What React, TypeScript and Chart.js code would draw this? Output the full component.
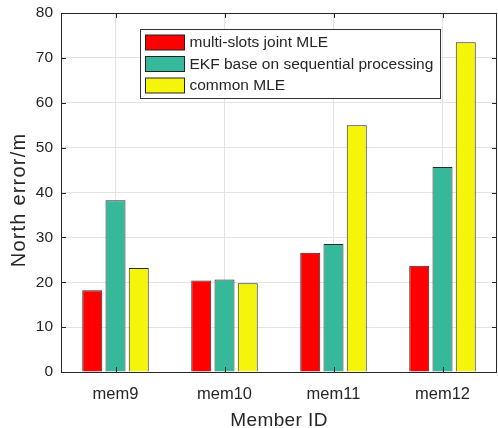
import React, { useEffect, useRef } from "react";
import { Chart, registerables } from "chart.js";

Chart.register(...registerables);

const categories = ["mem9", "mem10", "mem11", "mem12"];
const seriesNames = ["multi-slots joint MLE", "EKF base on sequential processing", "common MLE"];
const jointMLE = [18.2, 20.4, 26.6, 23.7];
const ekfSeq = [38.3, 20.6, 28.5, 45.7];
const commonMLE = [23.2, 19.8, 55.0, 73.5];
const seriesColors = ["#ff0000", "#36b89a", "#f5f50c"];
const yTicks = [0, 10, 20, 30, 40, 50, 60, 70, 80];
const xTitle = "Member ID";
const yTitle = "North error/m";

const FONT = "'Liberation Sans', Arial, sans-serif";
const TXT = "#262626";

const framePlugin = {
  id: "frame",
  afterDraw(chart: any) {
    const { ctx, chartArea } = chart;
    const { left, right, top, bottom } = chartArea;
    const ys = chart.scales.y;
    const xs = chart.scales.x;
    ctx.save();
    ctx.strokeStyle = TXT;
    ctx.lineWidth = 1;
    ctx.beginPath();
    yTicks.forEach((v) => {
      const y = Math.round(ys.getPixelForValue(v)) + 0.5;
      ctx.moveTo(left, y);
      ctx.lineTo(left + 5, y);
      ctx.moveTo(right, y);
      ctx.lineTo(right - 5, y);
    });
    categories.forEach((_, i) => {
      const x = Math.round(xs.getPixelForValue(i)) + 0.5;
      ctx.moveTo(x, bottom);
      ctx.lineTo(x, bottom - 5);
      ctx.moveTo(x, top);
      ctx.lineTo(x, top + 5);
    });
    ctx.stroke();
    ctx.beginPath();
    ctx.rect(Math.round(left) + 0.5, Math.round(top) + 0.5, Math.round(right - left) - 1, Math.round(bottom - top));
    ctx.stroke();

    // axis titles
    ctx.fillStyle = TXT;
    ctx.textAlign = "center";
    ctx.textBaseline = "alphabetic";
    ctx.font = `19px ${FONT}`;
    (ctx as any).letterSpacing = "0.4px";
    ctx.fillText(xTitle, (left + right) / 2, 426);
    ctx.save();
    ctx.translate(25, 200);
    ctx.rotate(-Math.PI / 2);
    ctx.font = `20px ${FONT}`;
    (ctx as any).letterSpacing = "1.2px";
    ctx.fillText(yTitle, 0, 0);
    ctx.restore();
    (ctx as any).letterSpacing = "0px";

    // legend
    const lx = Math.round(left) + 79.5;
    const ly = Math.round(top) + 16.5;
    const lw = 300;
    const lh = 69;
    ctx.fillStyle = "#ffffff";
    ctx.fillRect(lx, ly, lw, lh);
    ctx.strokeStyle = "#333333";
    ctx.strokeRect(lx, ly, lw, lh);
    ctx.font = `15.5px ${FONT}`;
    ctx.textAlign = "left";
    ctx.textBaseline = "middle";
    seriesNames.forEach((name, i) => {
      const cy = ly + 12.5 + i * 21.5;
      ctx.fillStyle = seriesColors[i];
      ctx.fillRect(lx + 5, cy - 7, 39, 15);
      ctx.strokeStyle = "#222222";
      ctx.strokeRect(lx + 5, cy - 7, 39, 15);
      ctx.fillStyle = TXT;
      ctx.fillText(name, lx + 49, cy + 1);
    });
    ctx.restore();
  },
};

export default function App() {
  const ref = useRef<HTMLCanvasElement | null>(null);
  useEffect(() => {
    document.body.style.margin = "0";
    const data = [jointMLE, ekfSeq, commonMLE];
    const chart = new Chart(ref.current as HTMLCanvasElement, {
      type: "bar",
      data: {
        labels: categories,
        datasets: seriesNames.map((name, i) => ({
          label: name,
          data: data[i],
          backgroundColor: seriesColors[i],
          borderColor: "#2a2a2a",
          borderWidth: 1,
          categoryPercentage: 0.64,
          barPercentage: 0.86,
        })),
      },
      options: {
        responsive: false,
        animation: false,
        layout: { padding: { top: 13, right: 1, left: 0, bottom: 0 } },
        plugins: { legend: { display: false }, tooltip: { enabled: false } },
        scales: {
          x: {
            offset: true,
            grid: { offset: false, color: "#e3e3e3", drawTicks: false },
            border: { display: false },
            ticks: { color: TXT, font: { family: FONT, size: 16.5 }, padding: 13 },
            afterFit(scale: any) {
              scale.height = 56;
            },
          },
          y: {
            min: 0,
            max: 80,
            grid: { color: "#e3e3e3", drawTicks: false },
            border: { display: false },
            ticks: {
              stepSize: 10,
              color: TXT,
              font: { family: FONT, size: 15.5 },
              padding: 8,
              callback: (v: any) => String(v),
            },
            afterBuildTicks(scale: any) {
              scale.ticks = yTicks.map((v) => ({ value: v }));
            },
            afterFit(scale: any) {
              scale.width = 61;
              scale.paddingTop = 0;
            },
          },
        },
      },
      plugins: [framePlugin],
    });
    return () => chart.destroy();
  }, []);
  return (
    <div style={{ position: "absolute", left: 0, top: 0, width: 498, height: 428, background: "#fff" }}>
      <canvas ref={ref} width={498} height={428} />
    </div>
  );
}
